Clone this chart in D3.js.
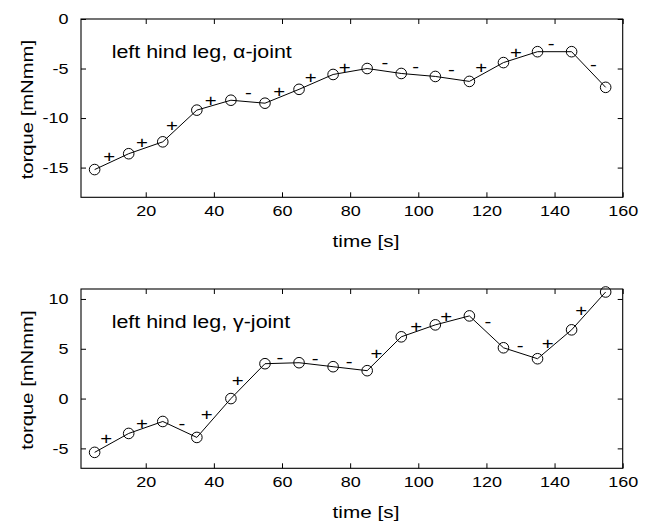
<!DOCTYPE html>
<html>
<head>
<meta charset="utf-8">
<script src="https://cdn.jsdelivr.net/npm/d3@7"></script>
<style>
  html, body { margin: 0; padding: 0; background: #fff; }
  svg { display: block; }
  text { font-family: "Liberation Sans", Arial, Helvetica, sans-serif; fill: #000; }
</style>
</head>
<body>
<svg id="chart" width="653" height="523"></svg>
<script>
// ---- data ----
const timeX = [5, 15, 25, 35, 45, 55, 65, 75, 85, 95, 105, 115, 125, 135, 145, 155];
const alphaTorque = [-15.2, -13.6, -12.4, -9.2, -8.2, -8.5, -7.1, -5.6, -5.0, -5.5, -5.8, -6.3, -4.4, -3.3, -3.3, -6.9];
const gammaTorque = [-5.4, -3.5, -2.3, -3.9, 0.0, 3.5, 3.6, 3.2, 2.8, 6.2, 7.4, 8.3, 5.1, 4.0, 6.9, 10.7];

const alphaSignX = [9.3, 18.9, 27.7, 39.1, 50.1, 59.2, 68.4, 78.4, 90.2, 99.2, 109.7, 118.5, 128.7, 139.0, 151.4];
const alphaSignY = [-13.8, -12.4, -10.7, -8.2, -7.5, -7.3, -5.9, -4.8, -4.4, -4.9, -5.2, -4.9, -3.3, -2.5, -4.6];
const alphaSign  = ["+", "+", "+", "+", "-", "+", "+", "+", "-", "-", "-", "+", "+", "-", "-"];

const gammaSignX = [8.4, 18.9, 30.6, 37.9, 47.0, 59.4, 69.7, 79.7, 87.7, 99.4, 108.2, 120.4, 129.9, 138.0, 147.8];
const gammaSignY = [-4.0, -2.5, -2.55, -1.6, 1.9, 4.06, 3.96, 3.7, 4.6, 7.3, 8.3, 7.65, 5.3, 5.6, 8.86];
const gammaSign  = ["+", "+", "-", "+", "+", "-", "-", "-", "+", "+", "+", "-", "-", "+", "+"];

const xTicks = [20, 40, 60, 80, 100, 120, 140, 160];
const alphaYTicks = [0, -5, -10, -15];
const gammaYTicks = [10, 5, 0, -5];
const xDomain = [1, 160];
const alphaYDomain = [-18, 0];
const gammaYDomain = [-7, 11];

const panels = [
  { title: "left hind leg, \u03b1-joint", values: alphaTorque, sx: alphaSignX, sy: alphaSignY, ss: alphaSign,
    yDomain: alphaYDomain, yTicks: alphaYTicks, top: 19, bottom: 197.3 },
  { title: "left hind leg, \u03b3-joint", values: gammaTorque, sx: gammaSignX, sy: gammaSignY, ss: gammaSign,
    yDomain: gammaYDomain, yTicks: gammaYTicks, top: 289, bottom: 468.3 }
];

// ---- drawing ----
const svg = d3.select("#chart");
const left = 81, right = 622.7;
const STR = 1.2; // horizontal glyph stretch

const x = d3.scaleLinear().domain(xDomain).range([left, right]);

function fmt(d) { return String(d).replace("\u2212", "-"); }

panels.forEach(p => {
  const y = d3.scaleLinear().domain(p.yDomain).range([p.bottom, p.top]);
  const g = svg.append("g");

  // ticks (inside, all four sides)
  const bottomAx = g.append("g").attr("transform", `translate(0,${p.bottom})`)
    .call(d3.axisBottom(x).tickValues(xTicks).tickSize(-5).tickSizeOuter(0).tickPadding(8.5).tickFormat(fmt));
  const topAx = g.append("g").attr("transform", `translate(0,${p.top})`)
    .call(d3.axisTop(x).tickValues(xTicks).tickSize(-5).tickSizeOuter(0).tickFormat(""));
  const leftAx = g.append("g").attr("transform", `translate(${left},0)`)
    .call(d3.axisLeft(y).tickValues(p.yTicks).tickSize(-5).tickSizeOuter(0).tickFormat(fmt));
  const rightAx = g.append("g").attr("transform", `translate(${right},0)`)
    .call(d3.axisRight(y).tickValues(p.yTicks).tickSize(-5).tickSizeOuter(0).tickFormat(""));

  [bottomAx, topAx, leftAx, rightAx].forEach(a => {
    a.select(".domain").remove();
    a.selectAll("line").attr("stroke", "#000").attr("stroke-width", 1);
    a.selectAll("text").style("font-family", '"Liberation Sans", Arial, sans-serif').attr("font-size", 15).attr("fill", "#000");
  });
  bottomAx.selectAll("text").attr("transform", `scale(${STR},1)`);
  leftAx.selectAll("text").attr("x", 0).attr("transform", `translate(-12.5,0) scale(${STR},1)`);

  // box
  g.append("rect").attr("x", left).attr("y", p.top)
    .attr("width", right - left).attr("height", p.bottom - p.top)
    .attr("fill", "none").attr("stroke", "#000").attr("stroke-width", 1.1);

  // line
  const line = d3.line().x((d, i) => x(timeX[i])).y(d => y(d));
  g.append("path").datum(p.values).attr("d", line)
    .attr("fill", "none").attr("stroke", "#000").attr("stroke-width", 1);

  // circles
  g.selectAll("circle.pt").data(p.values).enter().append("circle").attr("class", "pt")
    .attr("cx", (d, i) => x(timeX[i])).attr("cy", d => y(d)).attr("r", 5.3)
    .attr("fill", "none").attr("stroke", "#000").attr("stroke-width", 1);

  // +/- annotations
  g.selectAll("g.sign").data(p.ss).enter().append("g").attr("class", "sign")
    .attr("transform", (d, i) => `translate(${x(p.sx[i])},${y(p.sy[i])}) scale(${STR},1)`)
    .append("text").attr("text-anchor", "middle").attr("font-size", 17)
    .attr("dy", d => d === "+" ? "0.35em" : "0.29em")
    .text(d => d);

  // title
  svg.append("g").attr("transform", `translate(111.7,${p.top + 38.7}) scale(1.19,1)`)
    .append("text").attr("font-size", 18).text(p.title);

  // x label
  svg.append("g").attr("transform", `translate(366,${p.bottom + 49.3}) scale(1.22,1)`)
    .append("text").attr("text-anchor", "middle").attr("font-size", 17).text("time [s]");

  // y label
  svg.append("g").attr("transform", `translate(32.5,${(p.top + p.bottom) / 2 + 1.5}) rotate(-90) scale(1.19,1)`)
    .append("text").attr("text-anchor", "middle").attr("font-size", 17).text("torque [mNmm]");
});
</script>
</body>
</html>
